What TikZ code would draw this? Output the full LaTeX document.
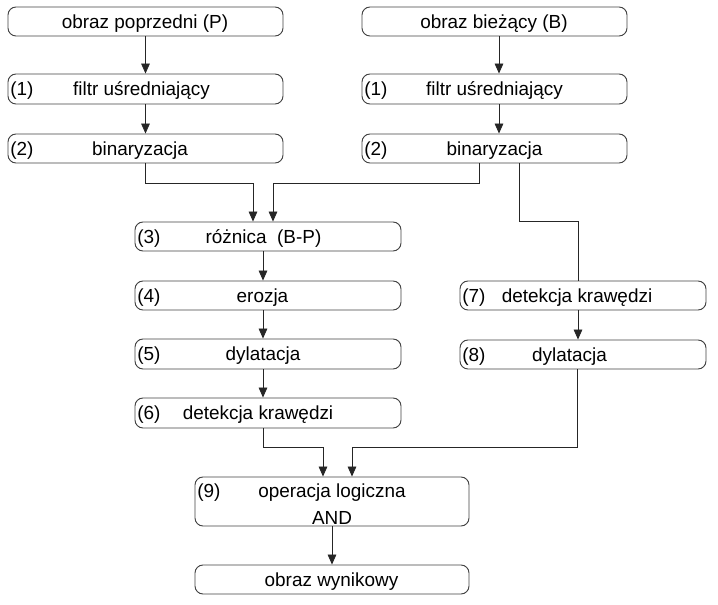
\documentclass[tikz,border=0pt]{standalone}
\usepackage{fontspec}
\setmainfont{Liberation Sans}
\usetikzlibrary{arrows.meta}
\begin{document}
\begin{tikzpicture}[x=0.75pt,y=-0.75pt,
  box/.style={draw=black!75,line width=0.7pt,rounded corners=6pt,inner sep=0pt},
  txt/.style={anchor=base,inner sep=0pt,font=\fontsize{14.2}{17}\selectfont},
  num/.style={anchor=base west,inner sep=0pt,font=\fontsize{14.2}{17}\selectfont},
  conn/.style={draw=black!85,line width=0.6pt},
  arr/.style={conn,-{Triangle[length=7.5pt,width=6.5pt]}}]
\useasboundingbox (0,0) rectangle (718,605);
% boxes
\node[box,minimum width=206.25pt,minimum height=21.75pt] (P) at (145.5,21.5) {};
\node[box,minimum width=206.25pt,minimum height=22.5pt] (P1) at (145.5,89) {};
\node[box,minimum width=206.25pt,minimum height=21.75pt] (P2) at (145.5,148.5) {};
\node[box,minimum width=198.75pt,minimum height=21.75pt] (B) at (494.5,21.5) {};
\node[box,minimum width=198.75pt,minimum height=22.5pt] (B1) at (494.5,89) {};
\node[box,minimum width=198.75pt,minimum height=21.75pt] (B2) at (494.5,148.5) {};
\node[box,minimum width=199.5pt,minimum height=21.75pt] (S3) at (268,236.5) {};
\node[box,minimum width=199.5pt,minimum height=21.75pt] (S4) at (268,295.5) {};
\node[box,minimum width=199.5pt,minimum height=22.5pt] (S5) at (268,354) {};
\node[box,minimum width=199.5pt,minimum height=22.5pt] (S6) at (268,413) {};
\node[box,minimum width=184.5pt,minimum height=21.75pt] (S7) at (583,295.5) {};
\node[box,minimum width=184.5pt,minimum height=21.75pt] (S8) at (583,354.5) {};
\node[box,minimum width=205.5pt,minimum height=36.75pt] (S9) at (332,501.5) {};
\node[box,minimum width=205.5pt,minimum height=21.75pt] (S10) at (332,579.5) {};
% texts
\node[txt] (tP) at (145,28.5) {obraz poprzedni (P)};
\node[txt] (tB) at (494,28.5) {obraz bieżący (B)};
\node[num] (nP1) at (10,96) {(1)};
\node[txt] (tP1) at (141.5,96) {filtr uśredniający};
\node[num] (nB1) at (364,96) {(1)};
\node[txt] (tB1) at (494.5,96) {filtr uśredniający};
\node[num] (nP2) at (10,155.5) {(2)};
\node[txt] (tP2) at (140,155.5) {binaryzacja};
\node[num] (nB2) at (364,155.5) {(2)};
\node[txt] (tB2) at (494.5,155.5) {binaryzacja};
\node[num] (n3) at (137,243.5) {(3)};
\node[txt] (t3) at (263.5,243.5) {różnica\ \ (B-P)};
\node[num] (n4) at (137,302.5) {(4)};
\node[txt] (t4) at (262.5,302.5) {erozja};
\node[num] (n5) at (137,361) {(5)};
\node[txt] (t5) at (263,361) {dylatacja};
\node[num] (n6) at (137,420) {(6)};
\node[txt] (t6) at (258,420) {detekcja krawędzi};
\node[num] (n7) at (462,302.5) {(7)};
\node[txt] (t7) at (577,302.5) {detekcja krawędzi};
\node[num] (n8) at (462,361.5) {(8)};
\node[txt] (t8) at (569.5,361.5) {dylatacja};
\node[num] (n9) at (197,498) {(9)};
\node[txt] (t9) at (332,498) {operacja logiczna};
\node[txt] (t9b) at (332,525) {AND};
\node[txt] (t10) at (331.5,586.5) {obraz wynikowy};
% helper coordinates
\coordinate (xB) at (499,0);
\coordinate (xL) at (479,0);
\coordinate (xR) at (519,0);
\coordinate (c1) at (253,183);
\coordinate (c2) at (273,183);
\coordinate (c3) at (578,221);
\coordinate (xm) at (263,0);
\coordinate (c4) at (323,447);
\coordinate (c5) at (352,447);
\coordinate (x8) at (577,0);
% connectors
\draw[arr] (P.south) -- (P1.north);
\draw[arr] (P1.south) -- (P2.north);
\draw[arr] (B.south -| xB) -- (B1.north -| xB);
\draw[arr] (B1.south -| xB) -- (B2.north -| xB);
\draw[arr] (P2.south) |- (c1) -- (c1 |- S3.north);
\draw[arr] (B2.south -| xL) |- (c2) -- (c2 |- S3.north);
\draw[conn] (B2.south -| xR) |- (c3) -- (c3 |- S7.north);
\draw[arr] (S3.south -| xm) -- (S4.north -| xm);
\draw[arr] (S4.south -| xm) -- (S5.north -| xm);
\draw[arr] (S5.south -| xm) -- (S6.north -| xm);
\draw[arr] (S7.south -| c3) -- (S8.north -| c3);
\draw[arr] (S6.south -| xm) |- (c4) -- (c4 |- S9.north);
\draw[arr] (S8.south -| x8) |- (c5) -- (c5 |- S9.north);
\draw[arr] (S9.south) -- (S10.north);
\end{tikzpicture}
\end{document}
